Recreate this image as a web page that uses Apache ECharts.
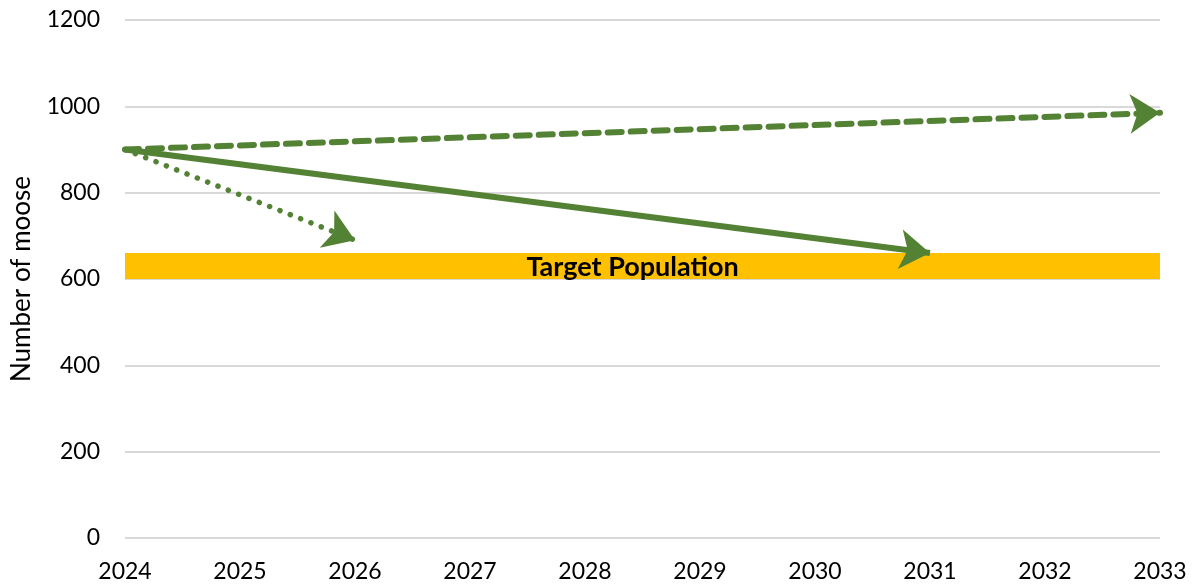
<!DOCTYPE html>
<html>
<head>
<meta charset="utf-8">
<script src="https://cdn.jsdelivr.net/npm/echarts@6/dist/echarts.min.js"></script>
<style>html,body{margin:0;padding:0;background:#fff}#c{width:1195px;height:586px}</style>
</head>
<body>
<div id="c"></div>
<script>
const xTicks = [2024, 2025, 2026, 2027, 2028, 2029, 2030, 2031, 2032, 2033];
const yTicks = [0, 200, 400, 600, 800, 1000, 1200];
const targetBand = [600, 660];
const targetLabel = 'Target Population';
const yAxisName = 'Number of moose';
const steadyGrowth = [[2024, 900], [2033, 985]];      // dashed
const moderateDecline = [[2024, 900], [2031, 660]];   // solid
const rapidDecline = [[2024, 900], [2026, 690]];      // dotted

const green = '#548235';
const font = 'Lato, "Open Sans", sans-serif';

function arrowSeries(name, coords, type, width, cap) {
  return {
    name: name,
    type: 'lines',
    coordinateSystem: 'cartesian2d',
    z: 5,
    symbol: ['none', 'arrow'],
    symbolSize: [27, 30],
    symbolOffset: [0, 15],
    lineStyle: { color: green, width: width, type: type, cap: cap, opacity: 1, curveness: 0 },
    data: [{ coords: coords }],
    silent: true
  };
}

const chart = echarts.init(document.getElementById('c'), null, { renderer: 'canvas' });
chart.setOption({
  animation: false,
  textStyle: { fontFamily: font },
  grid: { left: 125, right: 35, top: 20, bottom: 48, containLabel: false, outerBoundsMode: 'none' },
  xAxis: {
    type: 'value',
    min: xTicks[0], max: xTicks[xTicks.length - 1], interval: 1,
    axisLine: { show: false }, axisTick: { show: false }, splitLine: { show: false },
    axisLabel: { color: '#000', fontSize: 23, fontFamily: font, margin: 22, formatter: v => String(v) }
  },
  yAxis: {
    type: 'value',
    min: yTicks[0], max: yTicks[yTicks.length - 1], interval: 200,
    name: yAxisName, nameLocation: 'middle', nameGap: 90,
    nameTextStyle: { color: '#000', fontSize: 26, fontFamily: font },
    axisLine: { show: false }, axisTick: { show: false },
    splitLine: { lineStyle: { color: '#d9d9d9', width: 2 } },
    axisLabel: { color: '#000', fontSize: 23, fontFamily: font, margin: 25, formatter: v => String(v) }
  },
  series: [
    {
      type: 'line', data: [], z: 1,
      markArea: {
        silent: true,
        itemStyle: { color: '#ffc000', opacity: 1 },
        label: { show: true, position: 'inside', offset: [-10, 1], color: '#000', fontWeight: 'bold', fontSize: 27, fontFamily: font, formatter: targetLabel },
        data: [[{ coord: [xTicks[0], targetBand[0]] }, { coord: [xTicks[xTicks.length - 1], targetBand[1]] }]]
      }
    },
    arrowSeries('Steady growth', steadyGrowth, [14, 9], 6, 'round'),
    arrowSeries('Moderate decline', moderateDecline, 'solid', 6, 'butt'),
    arrowSeries('Rapid decline', rapidDecline, [0.1, 11], 5.5, 'round')
  ]
});
</script>
</body>
</html>
